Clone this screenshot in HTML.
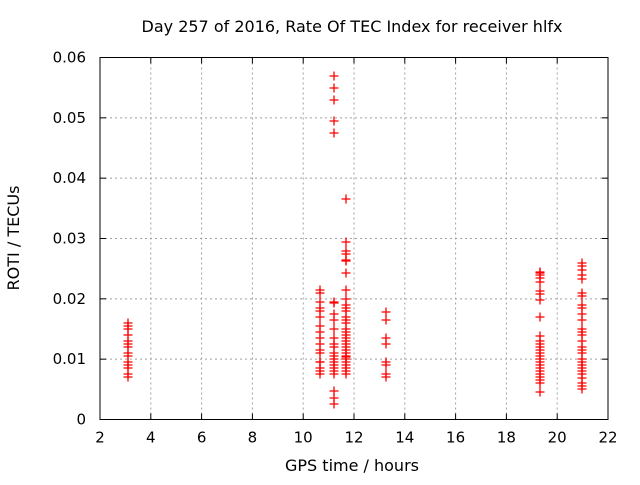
<!DOCTYPE html>
<html><head><meta charset="utf-8"><style>
body{margin:0;background:#fff;width:640px;height:480px;overflow:hidden}
svg text{font-family:"DejaVu Sans","Liberation Sans",sans-serif;font-size:15px;fill:#000}
svg text.big{font-size:16px}
</style></head><body>
<svg id="chart" width="640" height="480">
<text class="big" x="352" y="32" text-anchor="middle">Day 257 of 2016, Rate Of TEC Index for receiver hlfx</text>
<text class="big" x="352" y="471" text-anchor="middle">GPS time / hours</text>
<text class="big" transform="translate(19,238) rotate(-90)" text-anchor="middle">ROTI / TECUs</text>
<g id="grid"></g><g id="axes"></g><g id="pts"></g>
</svg>
<script>
const xTicks=[2,4,6,8,10,12,14,16,18,20,22];
const yTicks=[0,0.01,0.02,0.03,0.04,0.05,0.06];
const yTickLabels=["0","0.01","0.02","0.03","0.04","0.05","0.06"];
const hours3=[3.1,3.1,3.1,3.1,3.1,3.1,3.1,3.1,3.1,3.1,3.1,3.1,3.1,3.1];
const roti3=[0.007,0.0075,0.0085,0.009,0.0095,0.0105,0.011,0.012,0.0125,0.013,0.014,0.015,0.0155,0.016];
const hoursA=[10.66,10.66,10.66,10.66,10.66,10.66,10.66,10.66,10.66,10.66,10.66,10.66,10.66,10.66,10.66,10.66,10.66];
const rotiA=[0.0075,0.008,0.0085,0.0095,0.0095,0.011,0.0115,0.0125,0.0135,0.0145,0.0155,0.017,0.018,0.0185,0.0195,0.021,0.0215];
const hoursB=[11.21,11.21,11.21,11.21,11.21,11.21,11.21,11.21,11.21,11.21,11.21,11.21,11.21,11.21,11.21,11.21,11.21,11.21,11.21,11.21,11.21,11.21,11.21,11.21];
const rotiB=[0.0025,0.0035,0.0048,0.0075,0.008,0.0085,0.009,0.0095,0.01,0.0105,0.011,0.012,0.0125,0.0135,0.015,0.0165,0.0175,0.0193,0.0195,0.0475,0.0495,0.053,0.055,0.057];
const hoursC=[11.69,11.69,11.69,11.69,11.69,11.69,11.69,11.69,11.69,11.69,11.69,11.69,11.69,11.69,11.69,11.69,11.69,11.69,11.69,11.69,11.69,11.69,11.69,11.69,11.69,11.69,11.69,11.69,11.69,11.69,11.69,11.69];
const rotiC=[0.0075,0.008,0.0085,0.009,0.0095,0.01,0.0103,0.0106,0.011,0.0115,0.012,0.0125,0.013,0.0135,0.014,0.0145,0.015,0.016,0.0165,0.017,0.018,0.0185,0.019,0.02,0.0215,0.0243,0.0262,0.0265,0.0275,0.028,0.0295,0.0365];
const hoursD=[13.26,13.26,13.26,13.26,13.26,13.26,13.26,13.26];
const rotiD=[0.007,0.0075,0.009,0.0095,0.0125,0.0135,0.0165,0.0178];
const hoursE=[19.32,19.32,19.32,19.32,19.32,19.32,19.32,19.32,19.32,19.32,19.32,19.32,19.32,19.32,19.32,19.32,19.32,19.32,19.32,19.32,19.32,19.32,19.32,19.32,19.32,19.32];
const rotiE=[0.0045,0.006,0.0065,0.007,0.0075,0.008,0.0085,0.009,0.0095,0.01,0.0105,0.011,0.0115,0.012,0.0125,0.013,0.0138,0.017,0.0198,0.0208,0.0213,0.0228,0.0235,0.024,0.0243,0.0245];
const hoursF=[20.98,20.98,20.98,20.98,20.98,20.98,20.98,20.98,20.98,20.98,20.98,20.98,20.98,20.98,20.98,20.98,20.98,20.98,20.98,20.98,20.98,20.98,20.98,20.98,20.98,20.98,20.98,20.98];
const rotiF=[0.005,0.0055,0.006,0.0068,0.0075,0.008,0.0085,0.009,0.0095,0.01,0.011,0.0115,0.012,0.013,0.014,0.0145,0.015,0.0165,0.0175,0.0185,0.019,0.0205,0.021,0.0233,0.024,0.0248,0.0255,0.026];
const L=100,R=608,T=57.5,B=419.5;
const xs=v=>L+(v-2)/20*(R-L);
const ys=v=>B-v/0.06*(B-T);
const NS="http://www.w3.org/2000/svg";
function mk(tag,attrs,parent){const e=document.createElementNS(NS,tag);for(const k in attrs)e.setAttribute(k,attrs[k]);parent.appendChild(e);return e;}
const grid=document.getElementById('grid'),axes=document.getElementById('axes'),pts=document.getElementById('pts');
xTicks.forEach((t,i)=>{const x=xs(t);
 if(i>0&&i<xTicks.length-1){const g=mk('line',{x1:x,x2:x,y1:T,y2:B,stroke:'#a0a0a0','stroke-dasharray':'2,3'},grid);
 
 }
 mk('line',{x1:x,x2:x,y1:B,y2:B-6,stroke:'#000'},axes);mk('line',{x1:x,x2:x,y1:T,y2:T+6,stroke:'#000'},axes);
 const tx=mk('text',{x:x,y:B+23,'text-anchor':'middle'},axes);tx.textContent=t;
 
 });
yTicks.forEach((t,i)=>{const y=ys(t);
 if(i>0&&i<yTicks.length-1){const g=mk('line',{x1:L,x2:R,y1:y,y2:y,stroke:'#a0a0a0','stroke-dasharray':'2,3'},grid);
 
 }
 mk('line',{x1:L,x2:L+6,y1:y,y2:y,stroke:'#000'},axes);mk('line',{x1:R,x2:R-6,y1:y,y2:y,stroke:'#000'},axes);
 const tx=mk('text',{x:L-14,y:y+5,'text-anchor':'end'},axes);tx.textContent=yTickLabels[i];
 
 });
const frame=mk('rect',{x:L,y:T,width:R-L,height:B-T,fill:'none',stroke:'#000'},axes);


[[hours3,roti3],[hoursA,rotiA],[hoursB,rotiB],[hoursC,rotiC],[hoursD,rotiD],[hoursE,rotiE],[hoursF,rotiF]].forEach(([hx,rv])=>{
 hx.forEach((h,i)=>{const x=Math.round(xs(h)),y=Math.round(ys(rv[i]));
  const p=mk('path',{d:`M${x-4.5},${y}H${x+4.5}M${x},${y-4.5}V${y+4.5}`,stroke:'#ff0000','stroke-width':1.3,fill:'none'},pts);
  
  });});
</script>
</body></html>
